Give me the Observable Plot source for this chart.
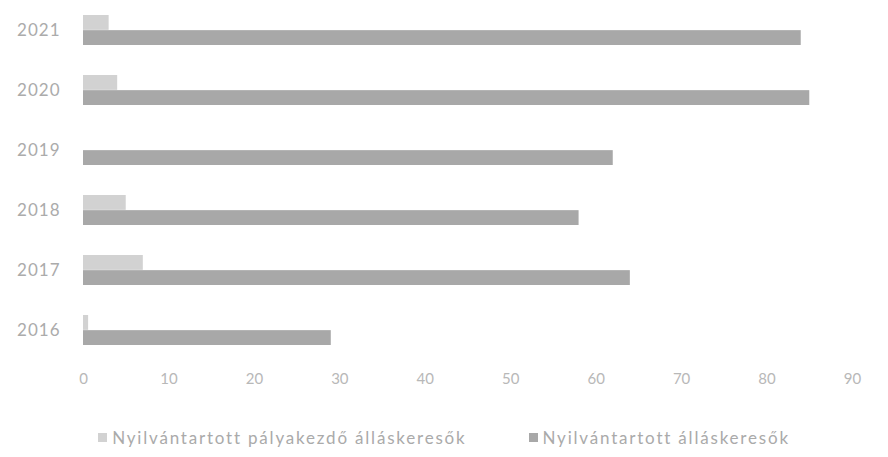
<!DOCTYPE html>
<html>
<head>
<meta charset="utf-8">
<script src="https://cdn.jsdelivr.net/npm/d3@7"></script>
<script src="https://cdn.jsdelivr.net/npm/@observablehq/plot@0.6"></script>
<style>
  body { margin: 0; background: #fff; font-family: Lato, "Open Sans", sans-serif; }
  #chart { width: 888px; }
  .legend { display: flex; justify-content: center; gap: 62px; margin-top: 27px; font-size: 17px; letter-spacing: 1.8px; color: #aaa; }
  .legend span.item { display: flex; align-items: center; }
  .legend i { display: inline-block; width: 9px; height: 9px; margin-right: 5px; }
</style>
</head>
<body>
<div id="chart"></div>
<script>
const years = ["2016", "2017", "2018", "2019", "2020", "2021"];
const palyakezdo = [0.6, 7, 5, 0, 4, 3];
const osszes = [29, 64, 58, 62, 85, 84];
const seriesNames = ["Nyilvántartott pályakezdő álláskeresők", "Nyilvántartott álláskeresők"];
const colors = ["#d2d2d2", "#a8a8a8"];
const xTicks = [0, 10, 20, 30, 40, 50, 60, 70, 80, 90];

const data = years.map((y, i) => ({year: y, p: palyakezdo[i], o: osszes[i]}));

const width = 888, height = 400, marginTop = 1, marginBottom = 41.5;
const pi = 0.5, po = 0.2;
const H = height - marginTop - marginBottom;
const step = H / (years.length - pi + 2 * po);
const bw = step * (1 - pi);

const chart = Plot.plot({
  width, height,
  marginLeft: 83, marginRight: 36, marginTop, marginBottom,
  style: {fontFamily: "Lato, 'Open Sans', sans-serif", background: "#fff"},
  x: {domain: [0, 90], ticks: xTicks, tickSize: 0, tickPadding: 14, label: null},
  y: {domain: years.slice().reverse(), paddingInner: pi, paddingOuter: po, tickSize: 0, tickPadding: 23, label: null},
  marks: [
    Plot.barX(data, {y: "year", x: "p", fill: colors[0], insetBottom: bw / 2}),
    Plot.barX(data, {y: "year", x: "o", fill: colors[1], insetTop: bw / 2})
  ]
});
chart.querySelectorAll("[aria-label='x-axis tick label']").forEach(g => { g.setAttribute("fill", "#b8b8b8"); g.setAttribute("font-size", "15"); });
chart.querySelectorAll("[aria-label='y-axis tick label']").forEach(g => { g.setAttribute("fill", "#ababab"); g.setAttribute("font-size", "17"); g.style.letterSpacing = "1px"; });
document.getElementById("chart").append(chart);

const legend = document.createElement("div");
legend.className = "legend";
seriesNames.forEach((n, i) => {
  const s = document.createElement("span");
  s.className = "item";
  const sw = document.createElement("i");
  sw.style.background = colors[i];
  s.append(sw, document.createTextNode(n));
  legend.append(s);
});
document.getElementById("chart").append(legend);
</script>
</body>
</html>
